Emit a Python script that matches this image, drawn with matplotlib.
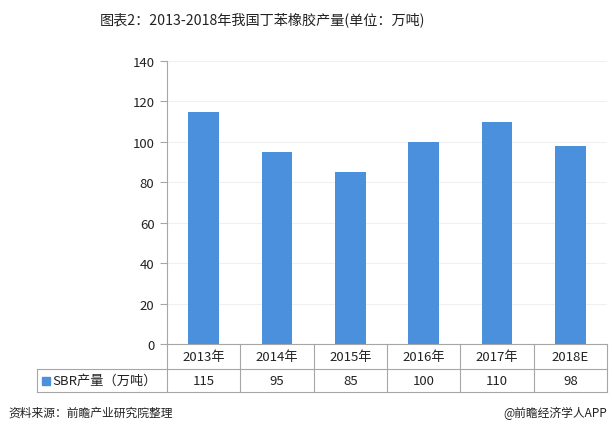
import matplotlib.pyplot as plt
import matplotlib.transforms as mtransforms
from matplotlib.lines import Line2D
from matplotlib.patches import Rectangle

plt.rcParams['font.family'] = ['Noto Sans CJK SC', 'DejaVu Sans']

categories = ["2013年", "2014年", "2015年", "2016年", "2017年", "2018E"]
sbr_output = [115, 95, 85, 100, 110, 98]
value_labels = ["115", "95", "85", "100", "110", "98"]
series_name = "SBR产量（万吨）"
title = "图表2：2013-2018年我国丁苯橡胶产量(单位：万吨)"
source = "资料来源：前瞻产业研究院整理"
credit = "@前瞻经济学人APP"

bar_color = "#4a90dc"
line_color = "#a6a6a6"

fig = plt.figure(figsize=(6.12, 4.39), dpi=100)
ax = fig.add_axes([167 / 612, 1 - 345 / 439, 440 / 612, 283 / 439])

x = list(range(len(categories)))
ax.bar(x, sbr_output, width=0.42, color=bar_color, zorder=3)

ax.set_xlim(-0.5, len(categories) - 0.5)
ax.set_ylim(0, 140)
ax.set_yticks(range(0, 141, 20))
ax.set_xticks([])
ax.yaxis.grid(True, color="#f0f0f0", linewidth=0.8, zorder=0)
for s in ["top", "right"]:
    ax.spines[s].set_visible(False)
ax.spines["left"].set_color(line_color)
ax.spines["bottom"].set_color(line_color)
ax.tick_params(axis="y", direction="out", length=5, color=line_color,
               labelsize=9.5, labelcolor="#222222", pad=4)

# data table under the axis
trans = mtransforms.blended_transform_factory(ax.transData, ax.transAxes)
row1 = -25 / 283
row2 = -48 / 283
left_x = -0.5 - 130 / (440 / len(categories))
kw = dict(color=line_color, linewidth=0.8, clip_on=False, transform=trans)
for yy in [row1, row2]:
    ax.add_line(Line2D([left_x, len(categories) - 0.5], [yy, yy], **kw))
for i in range(len(categories) + 1):
    ax.add_line(Line2D([i - 0.5, i - 0.5], [0, row2], **kw))
ax.add_line(Line2D([left_x, left_x], [row1, row2], **kw))

for i, (cat, val) in enumerate(zip(categories, value_labels)):
    ax.text(i, row1 / 2, cat, ha="center", va="center", fontsize=9.5,
            color="#222222", transform=trans)
    ax.text(i, (row1 + row2) / 2, val, ha="center", va="center", fontsize=9.5,
            color="#222222", transform=trans)

mark = Rectangle((42 / 612, 1 - 386 / 439), 8 / 612, 8 / 439,
                 transform=fig.transFigure, color=bar_color)
fig.add_artist(mark)
fig.text(52 / 612, 1 - 381.5 / 439, series_name, ha="left", va="center",
         fontsize=9.5, color="#222222")

fig.text(262 / 612, 1 - 20 / 439, title, ha="center", va="center",
         fontsize=10.2, color="#222222")
fig.text(8 / 612, 1 - 413 / 439, source, ha="left", va="center",
         fontsize=8.5, color="#222222")
fig.text(607 / 612, 1 - 413 / 439, credit, ha="right", va="center",
         fontsize=8.5, color="#222222")

fig.savefig("out.png", dpi=100)
